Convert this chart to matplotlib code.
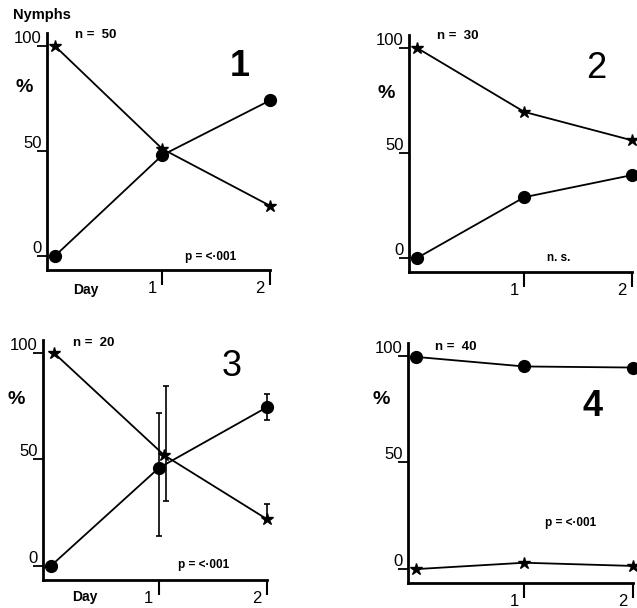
import matplotlib
matplotlib.use("Agg")
import matplotlib.pyplot as plt

plt.rcParams['font.family'] = ['Liberation Sans', 'DejaVu Sans']

# data (percent of nymphs)
days = [0, 1, 2]
p1_circle = [0, 48, 74]
p1_star = [100, 51, 24]
p2_circle = [0, 29, 39.5]
p2_star = [100, 69.5, 56]
p3_circle = [0, 46, 74.5]
p3_star = [100, 52, 22]
p3_circle_err_lo = [0, 32, 6]
p3_circle_err_hi = [0, 26, 6]
p3_star_err_lo = [0, 21.5, 1]
p3_star_err_hi = [0, 32.5, 7]
p4_circle = [99.5, 95, 94.5]
p4_star = [0, 3, 1.5]

n_labels = ['n =  50', 'n =  30', 'n =  20', 'n =  40']
p_labels = ['p = <·001', 'n. s.', 'p = <·001', 'p = <·001']
panel_names = ['1', '2', '3', '4']

W, H = 637, 608
fig = plt.figure(figsize=(W / 100, H / 100), dpi=100)


def px(x, y):
    return x / W, 1 - y / H


def make_axes(l, t, r, b):
    x0, y1 = px(l, t)
    x1, y0 = px(r, b)
    ax = fig.add_axes([x0, y0, x1 - x0, y1 - y0])
    ax.set_xlim(-0.07, 2.0)
    ax.set_ylim(-6.5, 106)
    for s in ['top', 'right']:
        ax.spines[s].set_visible(False)
    for s in ['left', 'bottom']:
        ax.spines[s].set_linewidth(2)
    ax.set_yticks([0, 50, 100])
    ax.set_yticklabels([])
    ax.set_xticks([1, 2])
    ax.set_xticklabels([])
    ax.tick_params(axis='y', direction='out', length=7, width=1.3)
    ax.tick_params(axis='x', direction='out', length=11, width=1.5)
    for v in [0, 50, 100]:
        ax.annotate(str(v), xy=(0, v), xycoords=ax.get_yaxis_transform(),
                    xytext=(-4, 0), textcoords='offset points',
                    ha='right', va='bottom', fontsize=12)
    for d in [1, 2]:
        ax.annotate(str(d), xy=(d, 0), xycoords=ax.get_xaxis_transform(),
                    xytext=(-4, -8), textcoords='offset points',
                    ha='right', va='top', fontsize=12)
    ax.patch.set_alpha(0)
    return ax


def draw(ax, x, y, marker, ms):
    ax.plot(x, y, color='black', lw=1.3, marker=marker, ms=ms,
            mfc='black', mec='black', clip_on=False, zorder=3)


boxes = [(47, 33, 270, 270), (409, 35, 632, 272),
         (43, 340, 267, 580), (408, 343, 633, 583)]
axs = [make_axes(*b) for b in boxes]

draw(axs[0], days, p1_circle, 'o', 8.5)
draw(axs[0], days, p1_star, '*', 9)
draw(axs[1], days, p2_circle, 'o', 8.5)
draw(axs[1], days, p2_star, '*', 9)
draw(axs[2], days, p3_circle, 'o', 8.5)
draw(axs[2], [0.03, 1.05, 2], p3_star, '*', 9)
axs[2].errorbar([1.0, 2.0], p3_circle[1:],
                yerr=[p3_circle_err_lo[1:], p3_circle_err_hi[1:]],
                fmt='none', ecolor='black', elinewidth=1.2, capsize=2.5,
                capthick=1.2, clip_on=False)
axs[2].errorbar([1.07, 2.0], p3_star[1:],
                yerr=[p3_star_err_lo[1:], p3_star_err_hi[1:]],
                fmt='none', ecolor='black', elinewidth=1.2, capsize=2.5,
                capthick=1.2, clip_on=False)
draw(axs[3], days, p4_circle, 'o', 8.5)
draw(axs[3], days, p4_star, '*', 9)

# texts
fig.text(*px(13, 15), 'Nymphs', fontsize=10.5, weight='bold', va='center')
n_pos = [(75, 35), (437, 36), (73, 343), (435, 347)]
for (x, y), t in zip(n_pos, n_labels):
    fig.text(*px(x, y), t, fontsize=9.5, weight='bold', va='center')

big_pos = [(240, 67), (596, 68), (232, 367), (593, 407)]
big_w = ['bold', 'normal', 'normal', 'bold']
for (x, y), t, w in zip(big_pos, panel_names, big_w):
    fig.text(*px(x, y), t, fontsize=26, weight=w, ha='center', va='center')

pct_pos = [(15, 88), (377, 93), (8, 400), (373, 400)]
for x, y in pct_pos:
    fig.text(*px(x, y), '%', fontsize=14, weight='bold', va='center')

p_pos = [(185, 257), (547, 258), (178, 565), (545, 523)]
for (x, y), t in zip(p_pos, p_labels):
    fig.text(*px(x, y), t, fontsize=8.5, weight='bold', va='center')

for x, y in [(73, 290), (72, 597)]:
    fig.text(*px(x, y), 'Day', fontsize=10, weight='bold', va='center')

fig.savefig('out.png', dpi=100)
